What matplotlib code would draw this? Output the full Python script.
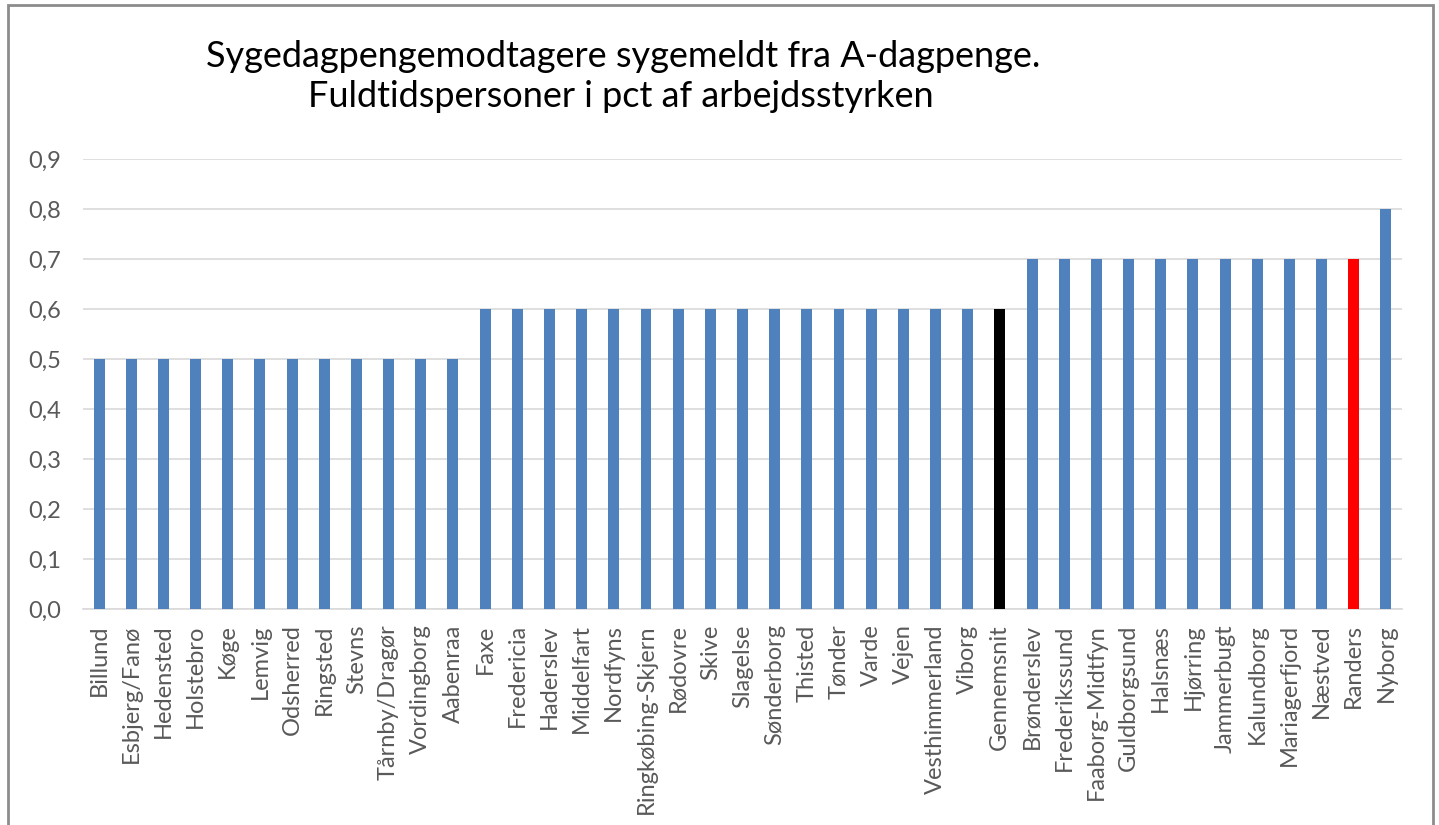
import matplotlib
matplotlib.use("Agg")
import matplotlib.pyplot as plt
from matplotlib.patches import Rectangle

categories = ["Billund", "Esbjerg/Fanø", "Hedensted", "Holstebro", "Køge", "Lemvig",
              "Odsherred", "Ringsted", "Stevns", "Tårnby/Dragør", "Vordingborg", "Aabenraa",
              "Faxe", "Fredericia", "Haderslev", "Middelfart", "Nordfyns", "Ringkøbing-Skjern",
              "Rødovre", "Skive", "Slagelse", "Sønderborg", "Thisted", "Tønder", "Varde",
              "Vejen", "Vesthimmerland", "Viborg", "Gennemsnit", "Brønderslev", "Frederikssund",
              "Faaborg-Midtfyn", "Guldborgsund", "Halsnæs", "Hjørring", "Jammerbugt",
              "Kalundborg", "Mariagerfjord", "Næstved", "Randers", "Nyborg"]
values = [0.5]*12 + [0.6]*16 + [0.6] + [0.7]*10 + [0.7] + [0.8]
yticks = [0.0, 0.1, 0.2, 0.3, 0.4, 0.5, 0.6, 0.7, 0.8, 0.9]

colors = []
for c in categories:
    if c == "Gennemsnit":
        colors.append("#000000")
    elif c == "Randers":
        colors.append("#FF0000")
    else:
        colors.append("#4F81BD")

plt.rcParams['font.family'] = ['Lato', 'DejaVu Sans']
W, H = 1439, 825
fig = plt.figure(figsize=(W/100, H/100), dpi=100)
ax = fig.add_axes([83/W, 1-609/H, (1402-83)/W, (609-159)/H])

x = list(range(len(categories)))
ax.bar(x, values, width=0.34, color=colors, zorder=3)
ax.set_xlim(-0.5, len(categories)-0.5)
ax.set_ylim(0, 0.9)
ax.set_yticks(yticks)
ax.set_yticklabels([f"{v:.1f}".replace(".", ",") for v in yticks])
ax.set_xticks(x)
ax.set_xticklabels(categories, rotation=90)
ax.tick_params(axis='both', length=0, colors='#595959', labelsize=17)
ax.tick_params(axis='y', pad=16)
ax.tick_params(axis='x', pad=11)
ax.grid(axis='y', color='#D9D9D9', linewidth=1.2, zorder=0)
for s in ['top', 'right', 'left']:
    ax.spines[s].set_visible(False)
ax.spines['bottom'].set_color('#D9D9D9')
ax.spines['bottom'].set_linewidth(1.2)

fig.text(623/W, 1-67/H, "Sygedagpengemodtagere sygemeldt fra A-dagpenge.",
         ha='center', va='baseline', fontsize=26, color='#000000')
fig.text(621/W, 1-107/H, "Fuldtidspersoner i pct af arbejdsstyrken",
         ha='center', va='baseline', fontsize=26, color='#000000')

fig.patches.append(Rectangle((8/W, -0.05), (1433-8)/W, 1-5/H+0.05, transform=fig.transFigure,
                             fill=False, edgecolor='#8C8C8C', linewidth=2))

fig.savefig("out.png", dpi=100)
